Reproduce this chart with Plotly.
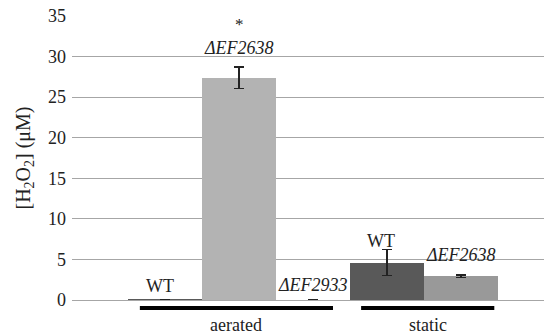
import plotly.graph_objects as go

strains = ["WT", "ΔEF2638", "ΔEF2933", "WT", "ΔEF2638"]
conditions = ["aerated", "aerated", "aerated", "static", "static"]
h2o2 = [0.1, 27.4, 0.0, 4.6, 2.95]
err = [0.0, 1.3, 0.0, 1.6, 0.15]
colors = ["#595959", "#b3b3b3", "#b3b3b3", "#595959", "#999999"]
y_ticks = [0, 5, 10, 15, 20, 25, 30, 35]

xs = list(range(len(strains)))
font_fam = "Liberation Serif"

fig = go.Figure()
fig.add_trace(go.Bar(
    x=xs, y=h2o2, width=1.0,
    marker=dict(color=colors, line=dict(width=0)),
    error_y=dict(type="data", array=err, visible=True, color="#222222", thickness=1.3, width=5),
    showlegend=False,
))

# bar labels: (x position, text, y position of label centre)
label_specs = [
    (-0.07, "WT", 1.75),
    (1.0, "<i>ΔEF2638</i>", 31.0),
    (2.0, "<i>ΔEF2933</i>", 1.8),
    (2.92, "WT", 7.3),
    (4.0, "<i>ΔEF2638</i>", 5.6),
]
for xv, txt, yv in label_specs:
    fig.add_annotation(x=xv, y=yv, text=txt, showarrow=False, xref="x", yref="y",
                       yanchor="middle",
                       font=dict(family=font_fam, size=18, color="#222222"))
fig.add_annotation(x=1.0, y=33.9, text="*", showarrow=False, xref="x", yref="y",
                   yanchor="middle",
                   font=dict(family=font_fam, size=17, color="#222222"))

# group lines and labels
groups = [("aerated", -0.34, 2.27), ("static", 2.65, 4.45)]
for name, x0, x1 in groups:
    fig.add_shape(type="line", xref="x", yref="paper", x0=x0, x1=x1, y0=-0.028, y1=-0.028,
                  line=dict(color="black", width=4))
    fig.add_annotation(x=(x0 + x1) / 2, y=-0.088, xref="x", yref="paper", text=name,
                       showarrow=False, yanchor="middle",
                       font=dict(family=font_fam, size=18, color="#222222"))

# page body has an 8px margin, so the figure is drawn 8px smaller to fit the window
fig.update_layout(
    width=544, height=327,
    margin=dict(l=64, r=7, t=8, b=35),
    plot_bgcolor="white", paper_bgcolor="white",
    font=dict(family=font_fam, size=18, color="#222222"),
    bargap=0,
)
fig.update_xaxes(range=[-1.257, 5.135], showticklabels=False, showgrid=False,
                 zeroline=False, showline=False, ticks="", automargin=False)
fig.update_yaxes(range=[0, 35], tickvals=y_ticks, showgrid=True, gridcolor="#a6a6a6", gridwidth=1,
                 zeroline=True, zerolinecolor="#a6a6a6", zerolinewidth=1,
                 showline=False, ticks="", ticklen=0, ticklabelstandoff=5,
                 ticklabeloverflow="allow", automargin=False,
                 tickfont=dict(family=font_fam, size=18, color="#222222"),
                 title=dict(text="[H<sub>2</sub>O<sub>2</sub>] (μM)", standoff=12,
                            font=dict(family=font_fam, size=20, color="#222222")))

fig.write_html("out.html")
